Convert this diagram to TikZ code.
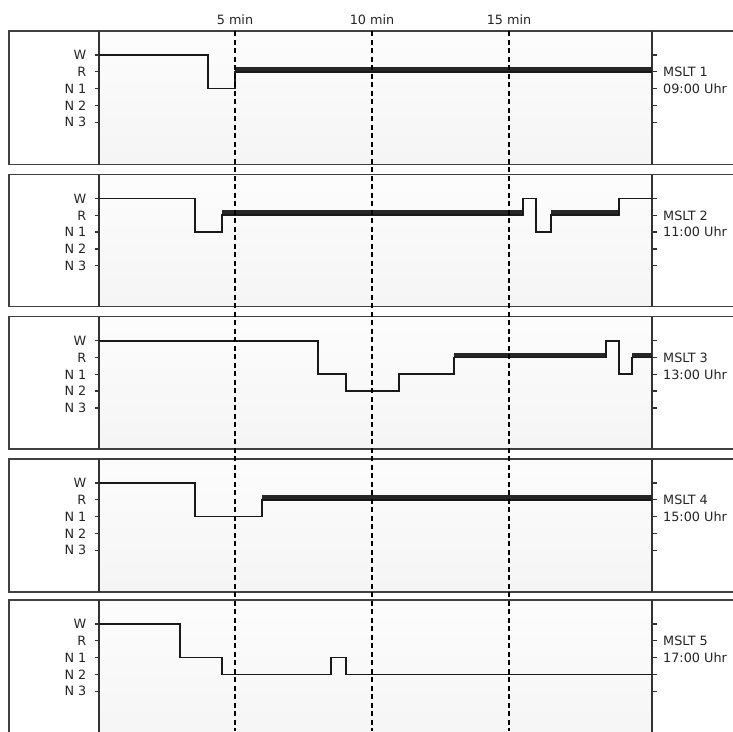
\documentclass[tikz,border=0pt]{standalone}
\usepackage{fontspec}
\setmainfont{DejaVu Sans}
\begin{document}
\begin{tikzpicture}[x=1pt,y=-1pt,
  frame/.style={draw=black!75,line width=1.4pt},
  axis/.style={draw=black!80,line width=1.4pt},
  tick/.style={draw=black!80,line width=1.3pt},
  plotbg/.style={top color=black!1,bottom color=black!4},
  trace/.style={draw=black!90,line width=1.7pt,line join=miter},
  rem/.style={fill=black!85},
  grid/.style={draw=black,line width=1.6pt,dash pattern=on 5pt off 3.5pt},
  lvl/.style={anchor=base east,inner sep=0pt,text=black!85,font=\fontsize{12.8}{14}\selectfont},
  mslt/.style={anchor=base west,inner sep=0pt,text=black!85,font=\fontsize{12.8}{14}\selectfont},
  tlab/.style={anchor=base,inner sep=0pt,text=black!85,font=\fontsize{12.8}{14}\selectfont}
]
\def\yW{24}\def\yR{40.8}\def\yNa{57.6}\def\yNb{74.4}\def\yNc{91.2}
\useasboundingbox (0,0) rectangle (733,731);
\clip (0,0) rectangle (733,731);
\fill[white] (0,0) rectangle (733,731);

% panels
\foreach \t/\b/\k/\h in {31/164.5/1/09, 174.5/306.5/2/11, 316.7/449/3/13, 459/592/4/15, 600/745/5/17} {
  \begin{scope}[shift={(0,\t)}]
    \shade[plotbg] (99,0) rectangle (652,\b-\t);
    \draw[frame] (9,0) rectangle (780,\b-\t);
    \draw[axis] (99,0) -- (99,\b-\t);
    \draw[axis] (652,0) -- (652,\b-\t);
    \foreach \lv/\nm/\txt in {\yW/W/W, \yR/R/R, \yNa/Na/N 1, \yNb/Nb/N 2, \yNc/Nc/N 3} {
      \draw[tick] (95,\lv) -- (99,\lv);
      \draw[tick] (652,\lv) -- (657,\lv);
      \node[lvl] (lab\k\nm) at (86.5,\lv+4.7) {\txt};
    }
    \node[mslt] (m\k) at (663,\yR+4.7) {MSLT \k};
    \node[mslt] (u\k) at (663,\yNa+4.7) {\h:00 Uhr};
  \end{scope}
}

% panel 1
\begin{scope}[shift={(0,31)}]
  \fill[rem] (235,\yR) rectangle (652,\yR-5);
  \draw[trace] (99,\yW) -| (208,\yNa) -| (235,\yR) -- (652,\yR);
\end{scope}
% panel 2
\begin{scope}[shift={(0,174.5)}]
  \fill[rem] (222,\yR) rectangle (523.3,\yR-5);
  \fill[rem] (550.7,\yR) rectangle (619.3,\yR-5);
  \draw[trace] (99,\yW) -| (195,\yNa) -| (222,\yR) -| (523.3,\yW) -| (535.7,\yNa) -| (550.7,\yR) -| (619.3,\yW) -- (652,\yW);
\end{scope}
% panel 3
\begin{scope}[shift={(0,316.7)}]
  \fill[rem] (454.3,\yR) rectangle (605.7,\yR-5);
  \fill[rem] (632.3,\yR) rectangle (652,\yR-5);
  \draw[trace] (99,\yW) -| (318.3,\yNa) -| (345.7,\yNb) -| (399.3,\yNa) -| (454.3,\yR) -| (605.7,\yW) -| (619.3,\yNa) -| (632.3,\yR) -- (652,\yR);
\end{scope}
% panel 4
\begin{scope}[shift={(0,459)}]
  \fill[rem] (262.3,\yR) rectangle (652,\yR-5);
  \draw[trace] (99,\yW) -| (195,\yNa) -| (262.3,\yR) -- (652,\yR);
\end{scope}
% panel 5
\begin{scope}[shift={(0,600)}]
  \draw[trace] (99,\yW) -| (180.3,\yNa) -| (222.3,\yNb) -| (331,\yNa) -| (345.7,\yNb) -- (652,\yNb);
\end{scope}

% time labels and dashed lines
\node[tlab] (t5) at (235,24) {5 min};
\node[tlab] (t10) at (372,24) {10 min};
\node[tlab] (t15) at (509,24) {15 min};
\foreach \x in {235,372,509} {
  \draw[grid] (\x,31) -- (\x,731);
}
\end{tikzpicture}
\end{document}
